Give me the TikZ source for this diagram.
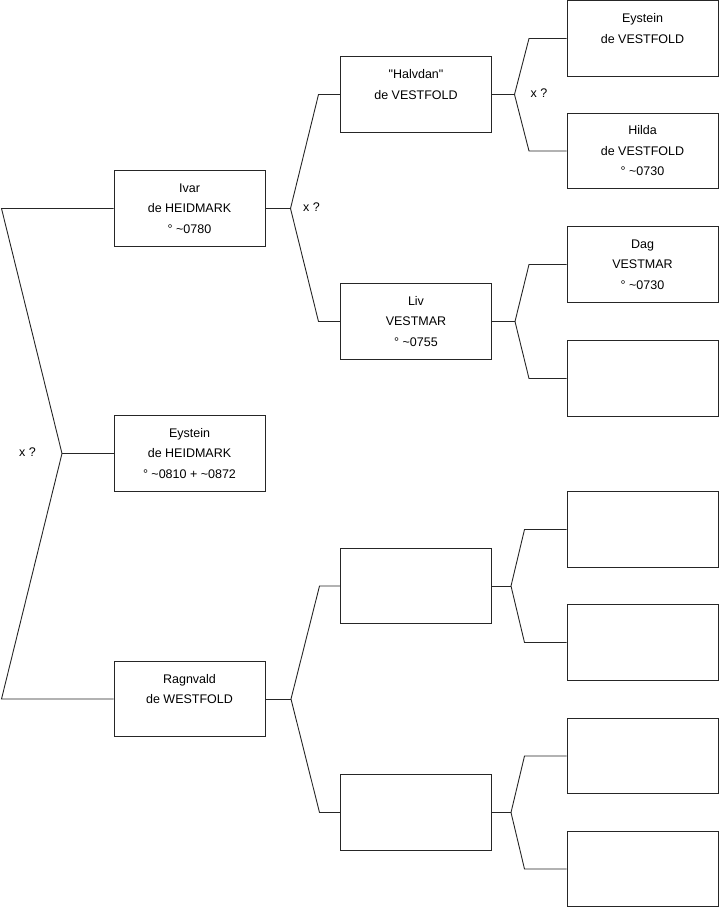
\documentclass[tikz,border=0pt]{standalone}
\usepackage{fontspec}
\setmainfont{Liberation Sans}
\begin{document}
\begin{tikzpicture}[
        x=1pt, y=-1pt,
        every node/.style={align=center, font=\fontsize{12.5}{20.5}\selectfont},
        person/.style={draw=black!85, line width=0.9pt, minimum width=151pt, minimum height=75.5pt, inner sep=0pt},
        link/.style={draw=black!85, line width=0.9pt},
        wedlabel/.style={inner sep=0pt}
    ]
    \useasboundingbox (0,0) rectangle (719,908);
    % child
    \node[person] (eystein) at (189.5,453.5) {Eystein\\de HEIDMARK\\° \textasciitilde0810 + \textasciitilde0872};
    % parents
    \node[person] (ivar) at (189.5,208.5) {Ivar\\de HEIDMARK\\° \textasciitilde0780};
    \node[person] (ragnvald) at (189.5,699) {Ragnvald\\de WESTFOLD\\~};
    % grandparents
    \node[person] (halvdan) at (416,94.5) {\textquotedbl Halvdan\textquotedbl\\de VESTFOLD\\~};
    \node[person] (liv) at (416,321.5) {Liv\\VESTMAR\\° \textasciitilde0755};
    \node[person] (ragnf) at (416,586) {};
    \node[person] (ragnm) at (416,812.5) {};
    % great-grandparents
    \node[person] (eysteinv) at (642.5,38.5) {Eystein\\de VESTFOLD\\~};
    \node[person] (hilda) at (642.5,151) {Hilda\\de VESTFOLD\\° \textasciitilde0730};
    \node[person] (dag) at (642.5,264.5) {Dag\\VESTMAR\\° \textasciitilde0730};
    \node[person] (livm) at (642.5,378.5) {};
    \node[person] (ragnff) at (642.5,529.5) {};
    \node[person] (ragnfm) at (642.5,642.5) {};
    \node[person] (ragnmf) at (642.5,756) {};
    \node[person] (ragnmm) at (642.5,869) {};

    % junctions
    \coordinate (j0) at (62,453.5);
    \coordinate (j0t) at (1.5,208.5);
    \coordinate (j0b) at (1.5,699);
    \coordinate (j1) at (290.5,208.5);
    \coordinate (j1t) at (318.5,94.5);
    \coordinate (j1b) at (318.5,321.5);
    \coordinate (j2) at (291,699);
    \coordinate (j2t) at (319.5,586);
    \coordinate (j2b) at (319.5,812.5);
    \coordinate (j3) at (514.5,94.5);
    \coordinate (j3t) at (529,38.5);
    \coordinate (j3b) at (529,151);
    \coordinate (j4) at (515,321.5);
    \coordinate (j4t) at (529,264.5);
    \coordinate (j4b) at (529,378.5);
    \coordinate (j5) at (511,586);
    \coordinate (j5t) at (524.5,529.5);
    \coordinate (j5b) at (524.5,642.5);
    \coordinate (j6) at (511,812.5);
    \coordinate (j6t) at (524.5,756);
    \coordinate (j6b) at (524.5,869);

    \draw[link] (ivar.west) -- (j0t) -- (j0) -- (j0b) -- (ragnvald.west);
    \draw[link] (j0) -- (eystein.west);
    \draw[link] (halvdan.west) -- (j1t) -- (j1) -- (j1b) -- (liv.west);
    \draw[link] (j1) -- (ivar.east);
    \draw[link] (ragnf.west) -- (j2t) -- (j2) -- (j2b) -- (ragnm.west);
    \draw[link] (j2) -- (ragnvald.east);
    \draw[link] (eysteinv.west) -- (j3t) -- (j3) -- (j3b) -- (hilda.west);
    \draw[link] (j3) -- (halvdan.east);
    \draw[link] (dag.west) -- (j4t) -- (j4) -- (j4b) -- (livm.west);
    \draw[link] (j4) -- (liv.east);
    \draw[link] (ragnff.west) -- (j5t) -- (j5) -- (j5b) -- (ragnfm.west);
    \draw[link] (j5) -- (ragnf.east);
    \draw[link] (ragnmf.west) -- (j6t) -- (j6) -- (j6b) -- (ragnmm.west);
    \draw[link] (j6) -- (ragnm.east);

    % marriages
    \node[wedlabel] (x0) at (27.5,452) {x ?};
    \node[wedlabel] (x1) at (311.5,207.5) {x ?};
    \node[wedlabel] (x3) at (539,93) {x ?};
\end{tikzpicture}
\end{document}
